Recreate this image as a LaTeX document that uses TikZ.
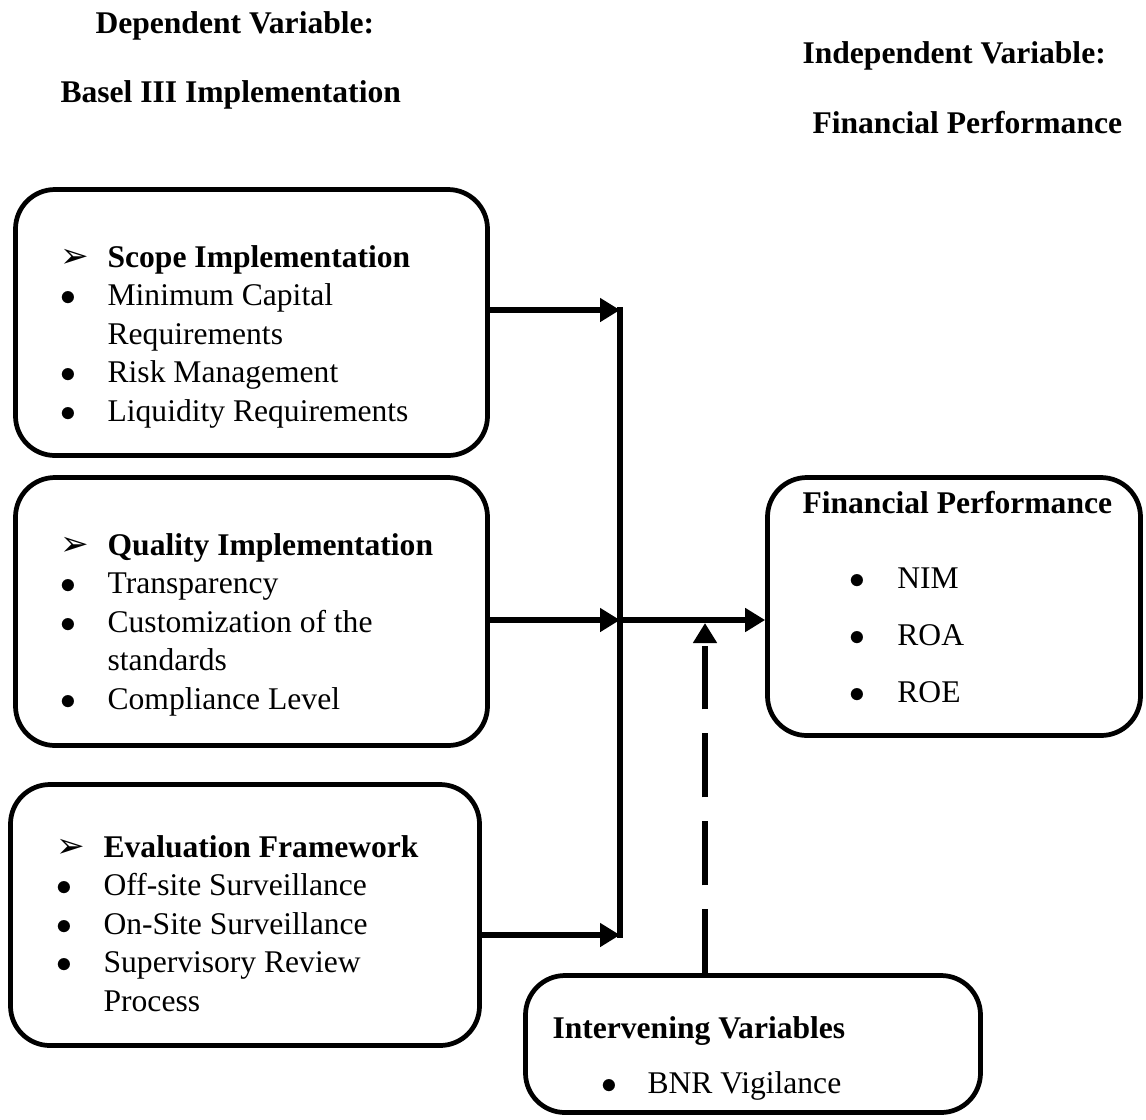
\documentclass[tikz,border=0pt]{standalone}
\usepackage{fontspec}
\setmainfont{Liberation Serif}
\newfontfamily\dejavu{DejaVu Sans}
\usetikzlibrary{arrows.meta}
\newcommand{\px}{0.38pt}
\newcommand{\pointer}{{\dejavu\fontsize{13}{14}\selectfont\raisebox{-0.3pt}{➢}}}
\newcommand{\dotitem}{$\bullet$}
\tikzset{
	box/.style={draw, line width=1.8pt, rounded corners=15pt, inner sep=0pt},
	list/.style={inner sep=0pt, anchor=base west, font=\fontsize{12}{14.63}\selectfont},
	head/.style={inner sep=0pt, anchor=base west, font=\fontsize{12}{14.63}\selectfont\bfseries},
	flow/.style={line width=2.6pt, -{Triangle[length=7.6pt,width=8.7pt]}},
}
\begin{document}
\begin{tikzpicture}[x=0.38pt, y=-0.38pt]
	\useasboundingbox (0,0) rectangle (1146,1119);
	% headings
	\node [head] (dep) at (95,33) {Dependent Variable:};
	\node [head] (basel) at (60,102) {Basel III Implementation};
	\node [head] (indep) at (802,63) {Independent Variable:};
	\node [head] (finperf) at (812,133) {Financial Performance};
	% boxes
	\node [box, minimum width=472*\px, minimum height=266*\px] (scope) at (251.5,322.5) {};
	\node [box, minimum width=472*\px, minimum height=268*\px] (quality) at (251.5,611.5) {};
	\node [box, minimum width=469*\px, minimum height=261*\px] (evaluation) at (245,915) {};
	\node [box, minimum width=373*\px, minimum height=258*\px] (perf) at (954,606.5) {};
	\node [box, minimum width=455*\px, minimum height=137*\px] (interv) at (753,1044) {};
	% box texts
	\node [list] (scopetxt) at (60,267) {\begin{tabular}[t]{@{}p{17.9pt}@{}l@{}}
		\pointer & \textbf{Scope Implementation}\\
		\dotitem & Minimum Capital\\
		         & Requirements\\
		\dotitem & Risk Management\\
		\dotitem & Liquidity Requirements
	\end{tabular}};
	\node [list] (qualitytxt) at (60,555) {\begin{tabular}[t]{@{}p{17.9pt}@{}l@{}}
		\pointer & \textbf{Quality Implementation}\\
		\dotitem & Transparency\\
		\dotitem & Customization of the\\
		         & standards\\
		\dotitem & Compliance Level
	\end{tabular}};
	\node [list] (evaluationtxt) at (56,857) {\begin{tabular}[t]{@{}p{17.9pt}@{}l@{}}
		\pointer & \textbf{Evaluation Framework}\\
		\dotitem & Off-site Surveillance\\
		\dotitem & On-Site Surveillance\\
		\dotitem & Supervisory Review\\
		         & Process
	\end{tabular}};
	\node [head] (perftitle) at (802,513) {Financial Performance};
	\node [list, font=\fontsize{12}{21.7}\selectfont] (perftxt) at (849,588) {\begin{tabular}[t]{@{}p{18.2pt}@{}l@{}}
		\dotitem & NIM\\
		\dotitem & ROA\\
		\dotitem & ROE
	\end{tabular}};
	\node [head] (intervtitle) at (552,1038) {Intervening Variables};
	\node [list] (intervtxt) at (601,1093) {\begin{tabular}[t]{@{}p{17.5pt}@{}l@{}}
		\dotitem & BNR Vigilance
	\end{tabular}};
	% connectors
	\coordinate (jtop) at (620,310);
	\coordinate (jmid) at (620,620);
	\coordinate (jbot) at (620,935);
	\coordinate (vig) at (705,623);
	\draw [line width=2.6pt, line cap=rect] (jtop) -- (jbot);
	\draw [flow] (scope.east |- jtop) -- (jtop);
	\draw [flow] (quality.east |- jmid) -- (jmid);
	\draw [flow] (evaluation.east |- jbot) -- (jbot);
	\draw [flow] (jmid) -- (perf.west |- jmid);
	\draw [flow, dash pattern=on 24.3pt off 9.1pt] (interv.north -| vig) -- (vig);
\end{tikzpicture}
\end{document}
